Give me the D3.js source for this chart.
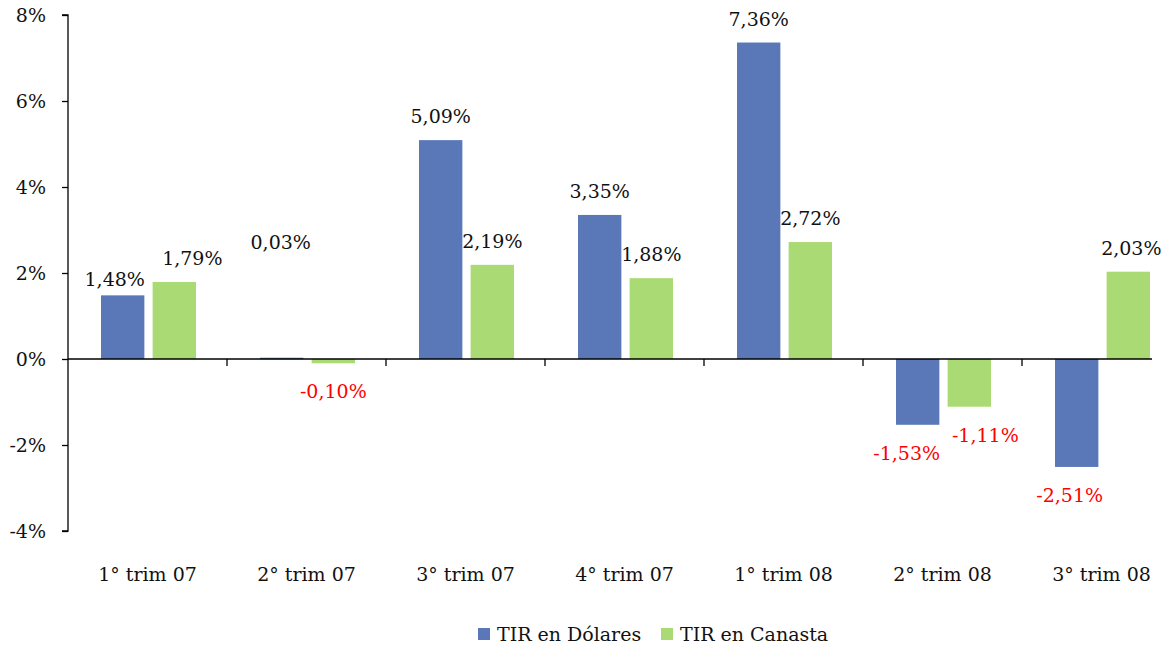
<!DOCTYPE html>
<html>
<head>
<meta charset="utf-8">
<script src="https://cdn.jsdelivr.net/npm/d3@7"></script>
<style>
  body { margin: 0; background: #fff; }
  text { font-family: "Palatino Linotype", "Book Antiqua", Palatino, "DejaVu Serif", serif; }
</style>
</head>
<body>
<div id="chart"></div>
<script>
// data
const categories = ["1° trim 07", "2° trim 07", "3° trim 07", "4° trim 07", "1° trim 08", "2° trim 08", "3° trim 08"];
const seriesNames = ["TIR en Dólares", "TIR en Canasta"];
const tirDolares = [1.48, 0.03, 5.09, 3.35, 7.36, -1.53, -2.51];
const tirCanasta = [1.79, -0.10, 2.19, 1.88, 2.72, -1.11, 2.03];
const yTicks = [-4, -2, 0, 2, 4, 6, 8];

const colors = ["#5a78b8", "#a9da73"];
// hand-moved value labels in the original (dx, dy)
const nudgeX = [[-8, -1, 0, 0, 0, -11, -7], [18, 0, 0, 0, 0, 16, 3]];
const nudgeY = [[8, -92, 0, 0, 0, 0, 0], [0, 0, 0, 0, 0, 0, 0]];

const W = 1174, H = 647;
const margin = {top: 15, right: 22, bottom: 116, left: 68};
const plotRight = W - margin.right - margin.left;   // where the plot area is cut
const height = H - margin.top - margin.bottom;
const band = 159;

const svg = d3.select("#chart").append("svg")
    .attr("width", W)
    .attr("height", H)
  .append("g")
    .attr("transform", "translate(" + margin.left + "," + margin.top + ")");

const x = d3.scaleBand().domain(categories).range([0, band * categories.length]);
const xs = d3.scaleBand().domain([0, 1]).range([33, x.bandwidth() - 31]).paddingInner(0.16);
const y = d3.scaleLinear().domain([-4, 8]).range([height, 0]);

svg.append("clipPath").attr("id", "clip")
  .append("rect").attr("x", 0).attr("y", -20).attr("width", plotRight).attr("height", height + 40);

const rows = [];
[tirDolares, tirCanasta].forEach((vals, s) => {
  vals.forEach((v, i) => rows.push({cat: categories[i], i: i, s: s, v: v}));
});

svg.append("g").attr("clip-path", "url(#clip)")
  .selectAll(".bar")
  .data(rows)
  .enter().append("rect")
    .attr("class", "bar")
    .attr("x", d => x(d.cat) + xs(d.s))
    .attr("width", xs.bandwidth())
    .attr("y", d => y(Math.max(0, d.v)))
    .attr("height", d => Math.max(1.5, Math.abs(y(d.v) - y(0))))
    .attr("fill", d => colors[d.s]);

const fmt = v => v.toFixed(2).replace(".", ",") + "%";

svg.selectAll(".lbl")
  .data(rows)
  .enter().append("text")
    .attr("class", "lbl")
    .attr("x", d => x(d.cat) + xs(d.s) + xs.bandwidth() / 2 + nudgeX[d.s][d.i])
    .attr("y", d => (d.v >= 0 ? y(d.v) - 17 : y(d.v) + 35) + nudgeY[d.s][d.i])
    .attr("text-anchor", "middle")
    .attr("font-size", 19)
    .attr("fill", d => d.v < 0 ? "#ff0000" : "#111")
    .text(d => fmt(d.v));

// y axis
const yAxis = svg.append("g")
  .call(d3.axisLeft(y).tickValues(yTicks).tickSize(6).tickPadding(16).tickFormat(d => d + "%"));
yAxis.select(".domain").attr("stroke", "#000").attr("stroke-width", 1.3).attr("d", "M-6," + y(8) + "H0V" + y(-4) + "H-6");
yAxis.selectAll(".tick line").attr("stroke", "#000").attr("stroke-width", 1.3);
yAxis.selectAll(".tick text").attr("font-size", 19).attr("fill", "#111")
  .attr("font-family", "\"Palatino Linotype\", \"Book Antiqua\", Palatino, \"DejaVu Serif\", serif");

// zero line with category ticks
const xAxis = svg.append("g")
  .attr("transform", "translate(0," + y(0) + ")")
  .call(d3.axisBottom(x).tickSize(0).tickFormat(""));
xAxis.select(".domain").attr("stroke", "#000").attr("stroke-width", 1.3).attr("d", "M0,0H" + plotRight);
svg.selectAll(".ctick")
  .data(categories.slice(1))
  .enter().append("line")
    .attr("x1", d => x(d)).attr("x2", d => x(d))
    .attr("y1", y(0)).attr("y2", y(0) + 7)
    .attr("stroke", "#000").attr("stroke-width", 1.3);

// category labels at the bottom
svg.selectAll(".cat")
  .data(categories)
  .enter().append("text")
    .attr("x", d => x(d) + x.bandwidth() / 2)
    .attr("y", height + 50)
    .attr("text-anchor", "middle")
    .attr("font-size", 19)
    .attr("fill", "#111")
    .text(d => d);

// legend
const legend = d3.select("svg").append("g").attr("transform", "translate(478,628)");
const lx = [0, 183];
seriesNames.forEach((n, s) => {
  const g = legend.append("g").attr("transform", "translate(" + lx[s] + ",0)");
  g.append("rect").attr("width", 12).attr("height", 12).attr("fill", colors[s]);
  g.append("text").attr("x", 19).attr("y", 13).attr("font-size", 19).attr("fill", "#111").text(n);
});
</script>
</body>
</html>
